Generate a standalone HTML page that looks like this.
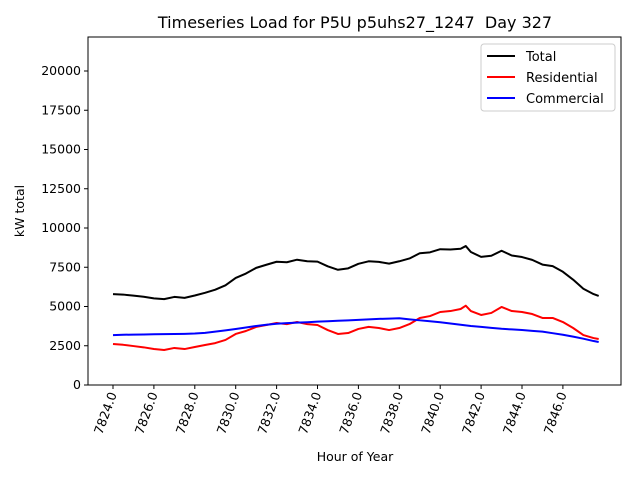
<!DOCTYPE html>
<html><head><meta charset="utf-8"><style>
body{margin:0;background:#fff;}
svg{display:block;font-family:"DejaVu Sans","Liberation Sans",sans-serif;}
</style></head><body>
<svg id="chart" width="640" height="480">
<rect x="0" y="0" width="640" height="480" fill="#fff"/>
<text x="355" y="28" font-size="16" text-anchor="middle">Timeseries Load for P5U p5uhs27_1247&#160; Day 327</text>
<g id="plot"></g>
<text x="355" y="461" font-size="12.5" text-anchor="middle">Hour of Year</text>
<text transform="translate(24,211) rotate(-90)" font-size="12.5" text-anchor="middle">kW total</text>
<g>
<rect x="481" y="44" width="134" height="67" rx="3" fill="#fff" stroke="#ccc"/>
<line x1="487" y1="56" x2="515" y2="56" stroke="#000" stroke-width="2"/>
<text x="526" y="61" font-size="13">Total</text>
<line x1="487" y1="77" x2="515" y2="77" stroke="#f00" stroke-width="2"/>
<text x="526" y="82" font-size="13">Residential</text>
<line x1="487" y1="98" x2="515" y2="98" stroke="#00f" stroke-width="2"/>
<text x="526" y="103" font-size="13">Commercial</text>
</g>
</svg>
<script>
const hours=[7824,7824.5,7825,7825.5,7826,7826.5,7827,7827.5,7828,7828.5,7829,7829.5,7830,7830.5,7831,7831.5,7832,7832.5,7833,7833.5,7834,7834.5,7835,7835.5,7836,7836.5,7837,7837.5,7838,7838.5,7839,7839.5,7840,7840.5,7841,7841.25,7841.5,7842,7842.5,7843,7843.5,7844,7844.5,7845,7845.5,7846,7846.5,7847,7847.5,7847.75];
const residential=[2610,2560,2480,2400,2290,2230,2360,2290,2420,2550,2670,2870,3250,3440,3700,3820,3950,3880,4010,3880,3820,3500,3250,3310,3570,3700,3630,3500,3630,3880,4270,4390,4650,4710,4840,5050,4710,4460,4590,4970,4710,4650,4520,4270,4270,4010,3630,3180,2990,2930];
const commercial=[3180,3200,3210,3220,3230,3240,3250,3260,3280,3320,3400,3480,3570,3660,3760,3840,3900,3940,3970,4000,4040,4060,4090,4120,4150,4180,4210,4230,4250,4180,4120,4060,4000,3920,3840,3800,3760,3700,3640,3580,3540,3500,3450,3400,3300,3200,3080,2950,2800,2740];
const total=residential.map((r,i)=>r+commercial[i]);
const yTicks=[0,2500,5000,7500,10000,12500,15000,17500,20000];
const xTicks=[7824,7826,7828,7830,7832,7834,7836,7838,7840,7842,7844,7846];
const L=88,R=621,T=37,B=385;
const xs=h=>113+(h-7824)*20.45;
const ys=v=>385-v*(314/20000);
const NS="http://www.w3.org/2000/svg";
const plot=document.getElementById('plot');
function mk(tag,attrs,parent){const e=document.createElementNS(NS,tag);for(const k in attrs)e.setAttribute(k,attrs[k]);(parent||plot).appendChild(e);return e;}
yTicks.forEach(v=>{
  const y=ys(v);
  const t=mk('line',{x1:L-4,y1:y,x2:L,y2:y,stroke:'#000'});
  
  
  const tx=mk('text',{x:L-7,y:y+4,'font-size':'12.5','text-anchor':'end'});
  tx.textContent=v;
  
  
});
xTicks.forEach(h=>{
  const x=xs(h);
  const t=mk('line',{x1:x,y1:B,x2:x,y2:B+4,stroke:'#000'});
  
  
  const tx=mk('text',{transform:`translate(${x+4},${B+9}) rotate(-70)`,'font-size':'12.5','text-anchor':'end'});
  tx.textContent=h.toFixed(1);
  
  
});
function line(vals,color,name){
  const p=mk('polyline',{points:vals.map((v,i)=>xs(hours[i])+','+ys(v)).join(' '),fill:'none',stroke:color,'stroke-width':2,'stroke-linejoin':'round'});
  
  
}
line(total,'#000','total-line');
line(residential,'#f00','residential-line');
line(commercial,'#00f','commercial-line');
const fr=mk('rect',{x:L,y:T,width:R-L,height:B-T,fill:'none',stroke:'#000'});


</script>
</body></html>
